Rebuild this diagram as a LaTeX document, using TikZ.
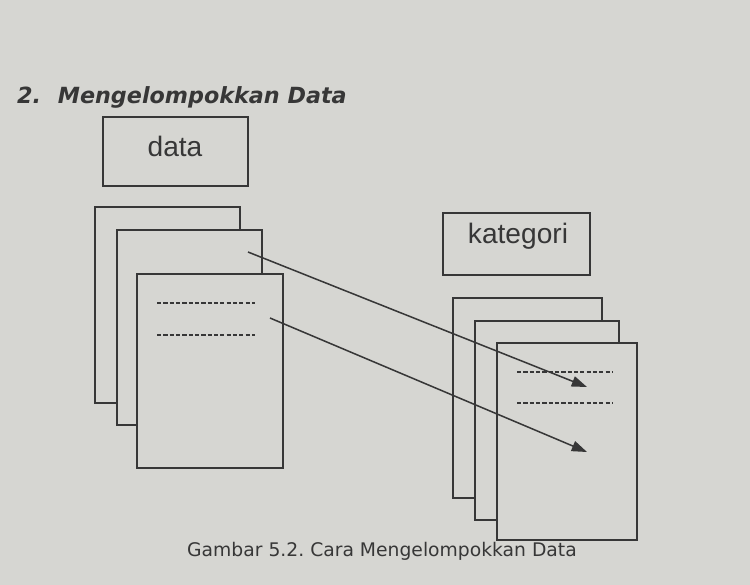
\documentclass[tikz,border=0pt]{standalone}
\usepackage{fontspec}
\setmainfont{Liberation Sans}
\newfontfamily\bookfont{DejaVu Sans}
\usetikzlibrary{arrows.meta,fit}
\definecolor{paper}{RGB}{214,214,210}
\definecolor{ink}{RGB}{55,55,55}
\frenchspacing
\tikzset{
  sheet/.style={draw=ink, fill=paper, line width=1.1pt, inner sep=0pt},
  label/.style={text=ink, font=\fontsize{24}{28}\selectfont, inner sep=0pt},
  dashline/.style={draw=ink, line width=1.1pt, dash pattern=on 3.6pt off 1.8pt},
  link/.style={draw=ink, line width=1.3pt, -{Triangle[length=13pt,width=9pt]}},
}

\begin{document}
\begin{tikzpicture}[x=0.03cm, y=-0.03cm]
    \fill[paper] (0,0) rectangle (750,585);
    \useasboundingbox (0,0) rectangle (750,585);

    \node[anchor=base west, text=ink, inner sep=0pt, font=\bookfont\bfseries\itshape\fontsize{19}{22}\selectfont] (judul) at (17,103) {2.\hspace{0.75em}Mengelompokkan Data};

    \node[sheet, fit={(103,117) (248,186)}] (databox) {};
    \node[label] (datalbl) at (175,146) {data};

    \node[sheet, fit={(95,207) (240,403)}] (dataA) {};
    \node[sheet, fit={(117,230) (262,425)}] (dataB) {};
    \node[sheet, fit={(137,274) (283,468)}] (dataC) {};
    \draw[dashline] (157,303) -- (255,303);
    \draw[dashline] (157,335) -- (255,335);

    \node[sheet, fit={(443,213) (590,275)}] (katbox) {};
    \node[label] (katlbl) at (518,236) {kategori};

    \node[sheet, fit={(453,298) (602,498)}] (katA) {};
    \node[sheet, fit={(475,321) (619,520)}] (katB) {};
    \node[sheet, fit={(497,343) (637,540)}] (katC) {};
    \draw[dashline] (517,372) -- (613,372);
    \draw[dashline] (517,403) -- (613,403);

    \coordinate (srcA) at (248,252);
    \coordinate (srcB) at (270,318);
    \coordinate (dstA) at (587,387);
    \coordinate (dstB) at (587,452);
    \draw[link] (srcA) -- (dstA);
    \draw[link] (srcB) -- (dstB);

    \node[anchor=base, text=ink, inner sep=0pt, font=\bookfont\fontsize{16}{19}\selectfont] (caption) at (382,556) {Gambar 5.2. Cara Mengelompokkan Data};
\end{tikzpicture}
\end{document}
